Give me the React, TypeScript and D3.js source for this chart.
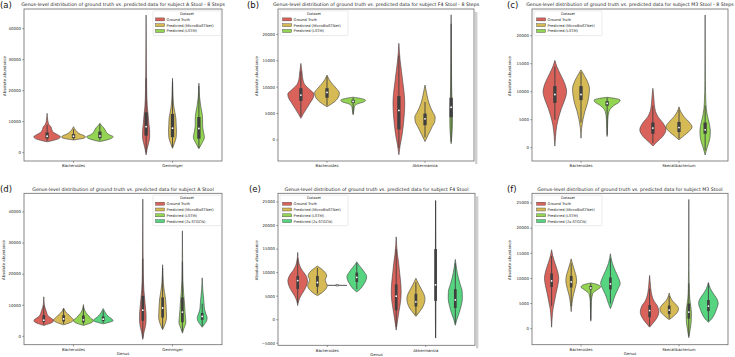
import React from 'react';
import * as d3 from 'd3';

type Knot = [number, number];

const datasets = ['Ground Truth', 'Predicted (MicroBioSTNet)', 'Predicted (LSTM)', 'Predicted (2s-STGCN)'];
const palette = ['#d9625b', '#d5ba55', '#93d453', '#57d480'];

const genusA = ['Bacteroides', 'Gemmiger'];
const genusF4 = ['Bacteroides', 'Akkermansia'];
const genusM3 = ['Bacteroides', 'Faecalibacterium'];

const ticksA = [0, 10000, 20000, 30000, 40000];
const ticksSteps = [0, 5000, 10000, 15000, 20000];
const ticksF4 = [-5000, 0, 5000, 10000, 15000, 20000, 25000];
const ticksM3 = [0, 5000, 10000, 15000, 20000, 25000];

// violin outlines: [abundance, relative half width], genus-major then dataset
const shapesA8: Knot[][] = [
  [[3500, 0], [4000, 0.5], [4700, 0.95], [5200, 1], [5800, 0.8], [6500, 0.5], [7500, 0.35], [8300, 0.3], [9000, 0.15], [10500, 0.05], [12700, 0]],
  [[4100, 0], [4500, 0.6], [5000, 0.9], [5400, 0.85], [6000, 0.5], [6800, 0.25], [7500, 0.12], [8400, 0]],
  [[3600, 0], [4200, 0.6], [4800, 0.95], [5200, 1], [5800, 0.7], [6500, 0.5], [7300, 0.4], [8000, 0.3], [8800, 0.12], [9500, 0]],
  [[-700, 0], [1000, 0.07], [3000, 0.18], [5000, 0.27], [7000, 0.27], [9000, 0.22], [12000, 0.16], [15000, 0.09], [20000, 0.045], [30000, 0.02], [44400, 0]],
  [[1400, 0], [3000, 0.14], [5000, 0.28], [7000, 0.3], [9000, 0.28], [11000, 0.26], [13000, 0.18], [16000, 0.07], [20000, 0.03], [24000, 0]],
  [[1300, 0], [3000, 0.22], [5000, 0.42], [7000, 0.33], [9000, 0.28], [11000, 0.28], [13000, 0.23], [15000, 0.14], [18000, 0.05], [22400, 0]],
];
// [low whisker, q1, median, q3, high whisker]
const boxesA8 = [
  [3800, 4600, 5300, 6500, 9000],
  [4200, 4700, 5300, 6000, 7600],
  [4000, 4700, 5400, 6800, 9200],
  [0, 5500, 8400, 13000, 24000],
  [1800, 5000, 7900, 12500, 23000],
  [1500, 4500, 7800, 11500, 21500],
];

const shapesF48: Knot[][] = [
  [[4100, 0], [5000, 0.2], [6000, 0.45], [7000, 0.7], [8000, 0.95], [8700, 1], [9500, 0.7], [10500, 0.3], [11500, 0.15], [12500, 0.1], [14500, 0]],
  [[6300, 0], [7000, 0.45], [8000, 0.85], [8900, 0.95], [9800, 0.7], [10800, 0.35], [11500, 0.15], [12300, 0]],
  [[4750, 0], [5500, 0.05], [6300, 0.1], [6800, 0.3], [7200, 0.8], [7500, 0.95], [7800, 0.7], [8100, 0]],
  [[-2800, 0], [-1000, 0.1], [1000, 0.25], [3000, 0.35], [5000, 0.42], [7000, 0.45], [9000, 0.4], [11000, 0.3], [13000, 0.2], [15000, 0.1], [18300, 0]],
  [[-300, 0], [1000, 0.25], [2500, 0.55], [3500, 0.75], [4300, 0.78], [5500, 0.55], [7000, 0.3], [8500, 0.15], [10400, 0]],
  [[-700, 0], [1000, 0.06], [3000, 0.1], [5000, 0.1], [7000, 0.07], [10000, 0.04], [15000, 0.02], [23700, 0]],
];
const boxesF48 = [
  [4500, 7400, 8500, 9800, 13000],
  [6500, 8000, 9000, 9800, 12000],
  [5000, 7000, 7300, 7600, 8000],
  [-1500, 2000, 5600, 8300, 16000],
  [500, 2800, 4000, 5000, 7200],
  [-300, 4300, 6200, 8000, 22000],
];

const shapesM38: Knot[][] = [
  [[300, 0], [2000, 0.05], [4000, 0.15], [5500, 0.3], [7000, 0.5], [8500, 0.75], [10000, 0.9], [11500, 0.75], [13000, 0.45], [14500, 0.15], [15600, 0]],
  [[1700, 0], [3500, 0.05], [5000, 0.15], [6500, 0.3], [8000, 0.5], [9500, 0.62], [10500, 0.65], [11500, 0.55], [12500, 0.35], [13900, 0]],
  [[2000, 0], [3500, 0.03], [5000, 0.05], [6500, 0.15], [7500, 0.5], [8200, 0.95], [8500, 1], [8800, 0.6], [9000, 0]],
  [[300, 0], [1000, 0.3], [2000, 0.75], [3200, 1], [4500, 0.75], [5500, 0.4], [6500, 0.2], [8000, 0.1], [9500, 0.05], [10600, 0]],
  [[1400, 0], [2000, 0.3], [3000, 0.8], [3700, 1], [4500, 0.8], [5500, 0.4], [6500, 0.12], [7300, 0]],
  [[-1300, 0], [0, 0.15], [1500, 0.35], [3000, 0.4], [4500, 0.3], [6000, 0.15], [8000, 0.06], [12000, 0.02], [23700, 0]],
];
const boxesM38 = [
  [5000, 8000, 9500, 11000, 14500],
  [4500, 8500, 9500, 11000, 13500],
  [2300, 7500, 7900, 8300, 8900],
  [800, 2500, 3500, 4500, 7500],
  [1600, 2800, 3600, 4600, 6800],
  [-500, 2500, 3200, 4500, 7500],
];

const shapesA: Knot[][] = [
  [[3500, 0], [4000, 0.5], [4700, 0.95], [5200, 1], [5800, 0.75], [6500, 0.45], [7500, 0.3], [8500, 0.2], [10000, 0.06], [12700, 0]],
  [[3700, 0], [4200, 0.5], [4800, 0.9], [5300, 1], [6000, 0.8], [6800, 0.55], [7500, 0.3], [8300, 0.12], [9100, 0]],
  [[3500, 0], [4000, 0.5], [4700, 0.95], [5200, 1], [5800, 0.75], [6500, 0.55], [7200, 0.35], [8200, 0.15], [10200, 0]],
  [[4000, 0], [4500, 0.6], [5000, 1], [5500, 0.9], [6200, 0.6], [7000, 0.35], [8000, 0.15], [8900, 0]],
  [[-1000, 0], [1000, 0.1], [3000, 0.25], [5000, 0.33], [7000, 0.33], [9000, 0.28], [12000, 0.19], [15000, 0.11], [20000, 0.05], [30000, 0.02], [44100, 0]],
  [[2100, 0], [4000, 0.25], [6000, 0.4], [8000, 0.38], [10000, 0.35], [12000, 0.3], [14000, 0.2], [17000, 0.08], [23000, 0]],
  [[1000, 0], [2500, 0.15], [4500, 0.35], [6500, 0.3], [8500, 0.25], [11000, 0.2], [14000, 0.12], [18000, 0.05], [25000, 0.02], [33900, 0]],
  [[2900, 0], [4000, 0.25], [5000, 0.45], [6000, 0.5], [7000, 0.4], [8500, 0.25], [10000, 0.2], [12000, 0.15], [15000, 0.06], [18800, 0]],
];
const boxesA = [
  [3800, 4600, 5200, 6800, 10000],
  [4000, 4800, 5600, 6800, 8800],
  [3800, 4500, 5300, 6700, 9500],
  [4300, 4900, 5500, 6400, 8300],
  [-500, 5000, 8400, 13000, 25000],
  [2500, 6000, 9100, 12500, 22000],
  [1500, 4500, 7800, 12500, 24000],
  [3300, 5300, 6400, 7500, 10500],
];

const shapesF4: Knot[][] = [
  [[3000, 0], [4000, 0.1], [5000, 0.3], [6000, 0.6], [7000, 0.85], [8200, 1], [9500, 0.8], [10500, 0.45], [11500, 0.2], [12500, 0.08], [14300, 0]],
  [[5100, 0], [5800, 0.5], [6500, 0.85], [7300, 1], [8000, 0.85], [8600, 0.8], [9300, 0.95], [10000, 0.8], [10800, 0.4], [11400, 0]],
  [[7300, 1]],
  [[5900, 0], [6500, 0.35], [7500, 0.7], [8500, 0.95], [9200, 1], [10000, 0.8], [11000, 0.45], [11800, 0.15], [12300, 0]],
  [[-2200, 0], [0, 0.15], [2000, 0.3], [4000, 0.45], [6000, 0.5], [8000, 0.45], [10000, 0.35], [12000, 0.25], [14000, 0.12], [17600, 0]],
  [[700, 0], [1500, 0.3], [2500, 0.65], [3500, 0.85], [4500, 0.92], [5500, 0.8], [6500, 0.55], [7500, 0.3], [8800, 0]],
  [[-3900, 0], [0, 0.02], [7000, 0.03], [15000, 0.02], [25300, 0]],
  [[-1200, 0], [0, 0.15], [1500, 0.4], [3000, 0.6], [4500, 0.72], [6000, 0.7], [7500, 0.5], [9000, 0.3], [11000, 0.12], [12800, 0]],
];
const boxesF4 = [
  [3500, 6500, 8300, 9300, 13000],
  [5500, 7000, 7900, 9300, 11000],
  [7300, 7300, 7300, 7300, 7300],
  [6500, 8000, 9000, 10000, 12000],
  [-1500, 2000, 5000, 7500, 15000],
  [1000, 2800, 3800, 5500, 8000],
  [-3900, 4000, 7400, 15000, 25300],
  [-800, 2500, 4200, 6500, 12000],
];

const shapesM3: Knot[][] = [
  [[300, 0], [2000, 0.05], [4000, 0.15], [5500, 0.3], [7000, 0.45], [8500, 0.62], [10000, 0.73], [11500, 0.6], [13000, 0.35], [14500, 0.12], [15700, 0]],
  [[3400, 0], [5000, 0.08], [6500, 0.2], [8000, 0.4], [9500, 0.55], [10500, 0.5], [11500, 0.35], [12800, 0.15], [13900, 0]],
  [[1500, 0], [3500, 0.03], [5500, 0.06], [7000, 0.2], [7800, 0.7], [8300, 1], [8700, 0.8], [9100, 0]],
  [[4000, 0], [5000, 0.2], [6500, 0.45], [8000, 0.8], [9000, 1], [10000, 0.85], [11500, 0.5], [13000, 0.2], [14900, 0]],
  [[300, 0], [1000, 0.3], [2000, 0.7], [3300, 0.95], [4500, 0.8], [5500, 0.45], [6500, 0.25], [8000, 0.12], [9500, 0.05], [10600, 0]],
  [[1800, 0], [2500, 0.45], [3300, 0.85], [4000, 0.95], [4700, 0.75], [5500, 0.35], [6300, 0.12], [7100, 0]],
  [[-1800, 0], [0, 0.15], [1500, 0.25], [3000, 0.27], [4500, 0.2], [6000, 0.1], [8000, 0.05], [12000, 0.02], [25700, 0]],
  [[1300, 0], [2000, 0.35], [3000, 0.65], [4000, 0.85], [5000, 1], [6000, 0.85], [7000, 0.5], [8000, 0.2], [9200, 0]],
];
const boxesM3 = [
  [4500, 8300, 9500, 11000, 14500],
  [4500, 8200, 9300, 10500, 13000],
  [1800, 7800, 8100, 8500, 9000],
  [5000, 7800, 8900, 10200, 14000],
  [500, 2300, 3600, 4700, 8000],
  [2000, 2900, 3700, 4600, 6500],
  [-1500, 2000, 3300, 5000, 9000],
  [1500, 3500, 4500, 5700, 9000],
];

const base = 'Genus-level distribution of ground truth vs. predicted data for subject';

const panels = [
  { letter: '(a)', title: `${base} A Stool - 8 Steps`, genus: genusA, shapes: shapesA8, boxes: boxesA8, ticks: ticksA,
    yDomain: [-2680, 46350], left: 24, right: 222, top: 9, bottom: 161, legendX: 153, yLabelX: 5, letterX: 0, xLabel: false, band: false },
  { letter: '(b)', title: `${base} F4 Stool - 8 Steps`, genus: genusF4, shapes: shapesF48, boxes: boxesF48, ticks: ticksSteps,
    yDomain: [-3980, 24800], left: 278, right: 474, top: 9, bottom: 161, legendX: 280, yLabelX: 257, letterX: 247, xLabel: false, band: true },
  { letter: '(c)', title: `${base} M3 Stool - 8 Steps`, genus: genusM3, shapes: shapesM38, boxes: boxesM38, ticks: ticksSteps,
    yDomain: [-2375, 24770], left: 532, right: 728, top: 9, bottom: 161, legendX: 534, yLabelX: 510, letterX: 507, xLabel: false, band: false },
  { letter: '(d)', title: `${base} A Stool`, genus: genusA, shapes: shapesA, boxes: boxesA, ticks: ticksA,
    yDomain: [-2700, 45980], left: 24, right: 222, top: 193.3, bottom: 344.7, legendX: 153, yLabelX: 4, letterX: 0, xLabel: true, band: false },
  { letter: '(e)', title: `${base} F4 Stool`, genus: genusF4, shapes: shapesF4, boxes: boxesF4, ticks: ticksF4,
    yDomain: [-5440, 26850], left: 278, right: 475, top: 193.3, bottom: 345.3, legendX: 280, yLabelX: 257, letterX: 249, xLabel: true, band: true },
  { letter: '(f)', title: `${base} M3 Stool`, genus: genusM3, shapes: shapesM3, boxes: boxesM3, ticks: ticksM3,
    yDomain: [-3180, 26930], left: 532, right: 728, top: 193.3, bottom: 344.7, legendX: 534, yLabelX: 510, letterX: 507, xLabel: true, band: false },
];

const font = 'DejaVu Sans, sans-serif';
const ink = '#3f3f3f';

function Panel({ p }: { p: (typeof panels)[number] }) {
  const x = d3.scaleLinear().domain([-0.5, 1.5]).range([p.left, p.right]);
  const y = d3.scaleLinear().domain(p.yDomain).range([p.bottom, p.top]);
  const nHue = p.shapes.length / p.genus.length;
  const w = 0.8 / nHue;
  const half = x(w / 2) - x(0);
  const boxW = nHue === 3 ? 3.3 : 2.7;
  const fmt = d3.format('d');
  const midY = (p.top + p.bottom) / 2;
  const cx = (p.left + p.right) / 2;
  const legendW = 68;
  const row = 5.8;
  const legendTop = p.top + 1.8;

  return (
    <g>
      <text x={p.letterX} y={p.top - 1.5} fontSize={8.5} fontFamily={font} fill="#111">{p.letter}</text>
      <text x={cx} y={p.top - 2.6} fontSize={4.7} fontFamily={font} textAnchor="middle" fill="#222">{p.title}</text>

      {p.shapes.map((shape, k) => {
        const gi = Math.floor(k / nHue);
        const hi = k % nHue;
        const c = x(gi - 0.4 + w * (hi + 0.5));
        const [lo, q1, med, q3, top] = p.boxes[k];
        if (shape.length === 1) {
          // constant series: seaborn collapses the violin to a flat line
          const v = shape[0][0];
          return (
            <g key={k}>
              <line x1={c - half} x2={c + half} y1={y(v)} y2={y(v)} stroke={ink} strokeWidth={0.9} />
              <rect x={c - boxW / 2} y={y(v) - 1} width={boxW} height={2} fill={ink} />
              <circle cx={c} cy={y(med)} r={0.7} fill="#fff" />
            </g>
          );
        }
        const knots = [...shape].sort((a, b) => b[0] - a[0]);
        const area = d3.area<Knot>()
          .y(d => y(d[0]))
          .x0(d => c - d[1] * half)
          .x1(d => c + d[1] * half)
          .curve(d3.curveMonotoneY);
        return (
          <g key={k}>
            <path d={area(knots) ?? ''} fill={palette[hi]} stroke={ink} strokeWidth={0.6} />
            <line x1={c} x2={c} y1={y(lo)} y2={y(top)} stroke={ink} strokeWidth={0.9} />
            <rect x={c - boxW / 2} y={y(q3)} width={boxW} height={y(q1) - y(q3)} fill={ink} />
            <circle cx={c} cy={y(med)} r={0.9} fill="#fff" />
          </g>
        );
      })}

      <rect x={p.left} y={p.top} width={p.right - p.left} height={p.bottom - p.top} fill="none" stroke="#6a6a6a" strokeWidth={0.8} />
      {p.band && <rect x={p.right + 1} y={p.top + 3} width={2.4} height={p.bottom - p.top} fill="#cfcfcf" />}

      {p.ticks.map(t => (
        <g key={t}>
          <line x1={p.left - 1.8} x2={p.left} y1={y(t)} y2={y(t)} stroke="#444" strokeWidth={0.5} />
          <text x={p.left - 3} y={y(t) + 1.35} fontSize={3.9} fontFamily={font} textAnchor="end" fill="#222">{fmt(t)}</text>
        </g>
      ))}
      {p.genus.map((g, i) => (
        <g key={g}>
          <line x1={x(i)} x2={x(i)} y1={p.bottom} y2={p.bottom + 1.8} stroke="#444" strokeWidth={0.5} />
          <text x={x(i)} y={p.bottom + 6.3} fontSize={3.9} fontFamily={font} textAnchor="middle" fill="#222">{g}</text>
        </g>
      ))}
      {p.xLabel && (
        <text x={cx} y={p.bottom + 10.7} fontSize={3.9} fontFamily={font} textAnchor="middle" fill="#222">Genus</text>
      )}
      <text transform={`translate(${p.yLabelX + 1.3},${midY - 9}) rotate(-90)`} fontSize={3.9} fontFamily={font} textAnchor="middle" fill="#222">
        Absolute abundance
      </text>

      <g>
        <rect x={p.legendX} y={legendTop} width={legendW} height={(nHue + 1) * row + 1.6} rx={1} fill="#fff" fillOpacity={0.85} stroke="#d6d6d6" strokeWidth={0.5} />
        <text x={p.legendX + legendW / 2} y={legendTop + 4.2} fontSize={3.6} fontFamily={font} textAnchor="middle" fill="#222">Dataset</text>
        {datasets.slice(0, nHue).map((d, i) => {
          const ty = legendTop + row * (i + 1) + 4.2;
          return (
            <g key={d}>
              <rect x={p.legendX + 2.6} y={ty - 2.9} width={9} height={3} fill={palette[i]} stroke={ink} strokeWidth={0.4} />
              <text x={p.legendX + 13.6} y={ty} fontSize={3.6} fontFamily={font} fill="#222">{d}</text>
            </g>
          );
        })}
      </g>
    </g>
  );
}

export default function App() {
  return (
    <div style={{ position: 'fixed', left: 0, top: 0, width: 735, height: 357, background: '#fff' }}>
      <svg width={735} height={357} viewBox="0 0 735 357">
        <rect width={735} height={357} fill="#fff" />
        {panels.map(p => <Panel key={p.letter} p={p} />)}
      </svg>
    </div>
  );
}
